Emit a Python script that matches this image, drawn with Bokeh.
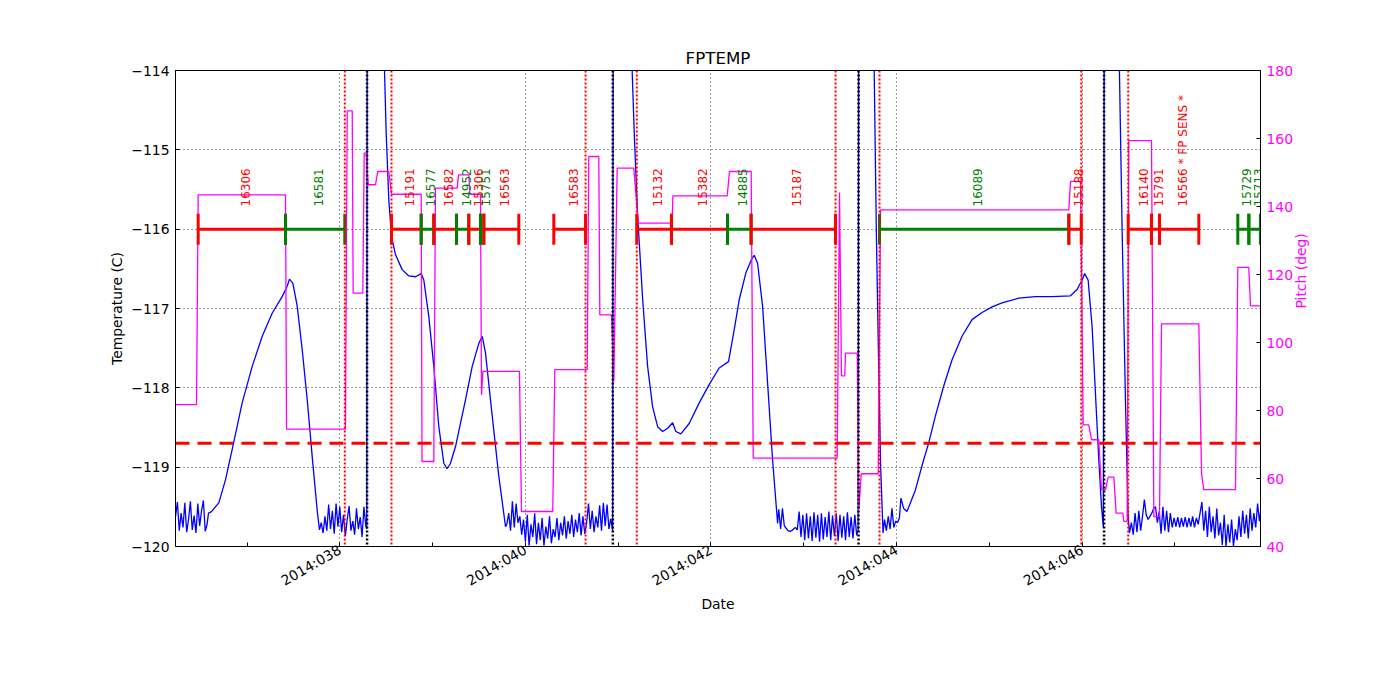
import math
from bokeh.plotting import figure
from bokeh.models import Range1d, LinearAxis, FixedTicker, Span, LabelSet, ColumnDataSource
from bokeh.embed import file_html
from bokeh.resources import INLINE
from bokeh.core.properties import value

FONT = "DejaVu Sans"
RED = "#FF0000"
GREEN = "#008000"
BLUE = "#0000FF"
MAGENTA = "#FF00FF"

# ---------------- axes ----------------
x_start_day = 36.2295
x_end_day = 47.9215
x_major_days = [38, 40, 42, 44, 46]
x_tick_labels = ["2014:038", "2014:040", "2014:042", "2014:044", "2014:046"]
x_minor_days = [37, 39, 41, 43, 45, 47]
temp_ticks = [-120, -119, -118, -117, -116, -115, -114]
temp_tick_labels = ["\u2212120", "\u2212119", "\u2212118", "\u2212117", "\u2212116", "\u2212115", "\u2212114"]
pitch_ticks = [40, 60, 80, 100, 120, 140, 160, 180]

# ---------------- limits / events ----------------
temp_limit = -118.7
red_event_days = [38.054, 38.557, 40.648, 41.200, 43.342, 43.816, 45.990, 46.496]
black_event_days = [38.294, 40.942, 43.590, 46.236]

# ---------------- FPTEMP (deg C) ----------------
n1_day = [36.23, 36.25, 36.27, 36.29, 36.31, 36.33, 36.35, 36.37, 36.39, 36.41,
          36.43, 36.45, 36.47, 36.49, 36.51, 36.53, 36.55, 36.57]
n1_c = [-119.62, -119.44, -119.80, -119.58, -119.76, -119.45, -119.82, -119.66, -119.43, -119.79,
        -119.61, -119.83, -119.46, -119.74, -119.55, -119.42, -119.81, -119.72]

h1_day = [36.585, 36.617, 36.696, 36.768, 36.840, 36.948, 37.056, 37.164, 37.271, 37.379,
          37.433, 37.458, 37.494, 37.541, 37.595, 37.649, 37.703, 37.756, 37.781]
h1_c = [-119.58, -119.56, -119.45, -119.16, -118.78, -118.19, -117.73, -117.35, -117.06, -116.85,
        -116.72, -116.63, -116.68, -116.97, -117.52, -118.15, -118.87, -119.54, -119.79]

n2_day = [37.80, 37.82, 37.84, 37.86, 37.88, 37.90, 37.92, 37.94, 37.96, 37.98,
          38.00, 38.02, 38.04, 38.06, 38.08, 38.10, 38.12, 38.14, 38.16, 38.18,
          38.20, 38.22, 38.24, 38.26, 38.28, 38.290, 38.296, 38.470]
n2_c = [-119.70, -119.83, -119.62, -119.80, -119.47, -119.78, -119.55, -119.84, -119.46, -119.75,
        -119.50, -119.82, -119.60, -119.87, -119.66, -119.49, -119.80, -119.68, -119.85, -119.52,
        -119.78, -119.63, -119.88, -119.50, -119.74, -119.78, -113.0, -113.5]

h2_day = [38.500, 38.528, 38.557, 38.600, 38.672, 38.743, 38.816, 38.877, 38.905, 38.959,
          39.013, 39.067, 39.121, 39.155, 39.190, 39.247, 39.355, 39.427, 39.498, 39.535,
          39.570, 39.643, 39.714, 39.786]
h2_c = [-114.79, -115.63, -116.09, -116.32, -116.51, -116.59, -116.60, -116.56, -116.64, -117.10,
        -117.73, -118.49, -118.95, -119.02, -118.96, -118.74, -118.15, -117.73, -117.44, -117.35,
        -117.56, -118.36, -119.12, -119.75]

n3_day = [39.80, 39.82, 39.84, 39.86, 39.88, 39.90, 39.92, 39.94, 39.96, 39.98,
          40.00, 40.02, 40.04, 40.06, 40.08, 40.10, 40.12, 40.14, 40.16, 40.18,
          40.20, 40.22, 40.24, 40.26, 40.28, 40.30, 40.32, 40.34, 40.36, 40.38,
          40.40, 40.42, 40.44, 40.46, 40.48, 40.50, 40.52, 40.54, 40.56, 40.58,
          40.60, 40.62, 40.64, 40.66, 40.68, 40.70, 40.72, 40.74, 40.76, 40.78,
          40.80, 40.82, 40.84, 40.86, 40.88, 40.90, 40.92, 40.940, 40.946, 41.136]
n3_c = [-119.72, -119.58, -119.80, -119.43, -119.76, -119.46, -119.70, -119.62, -119.85, -119.66,
        -119.94, -119.60, -119.99, -119.72, -119.88, -119.58, -119.97, -119.70, -119.92, -119.64,
        -119.99, -119.75, -119.90, -119.62, -119.96, -119.78, -119.88, -119.64, -119.92, -119.70,
        -119.86, -119.62, -119.90, -119.68, -119.84, -119.60, -119.88, -119.66, -119.82, -119.58,
        -119.86, -119.62, -119.84, -119.70, -119.46, -119.78, -119.55, -119.82, -119.62, -119.76,
        -119.48, -119.80, -119.45, -119.74, -119.47, -119.78, -119.65, -119.80, -113.0, -113.5]

h3_day = [41.173, 41.210, 41.264, 41.317, 41.371, 41.425, 41.479, 41.533, 41.587, 41.621,
          41.675, 41.765, 41.873, 41.980, 42.088, 42.189, 42.250, 42.304, 42.376, 42.441,
          42.466, 42.502, 42.556, 42.610, 42.664, 42.718]
h3_c = [-114.79, -115.84, -116.89, -117.73, -118.24, -118.49, -118.55, -118.51, -118.44, -118.55,
        -118.58, -118.45, -118.19, -117.96, -117.75, -117.67, -117.27, -116.89, -116.55, -116.37,
        -116.33, -116.43, -116.97, -117.94, -118.91, -119.71]

n4_day = [42.73, 42.75, 42.77, 42.79, 42.81, 42.83, 42.85, 42.87, 42.89, 42.91,
          42.93, 42.95, 42.97, 42.99, 43.01, 43.03, 43.05, 43.07, 43.09, 43.11,
          43.13, 43.15, 43.17, 43.19, 43.21, 43.23, 43.25, 43.27, 43.29, 43.31,
          43.33, 43.35, 43.37, 43.39, 43.41, 43.43, 43.45, 43.47, 43.49, 43.51,
          43.53, 43.55, 43.57, 43.585, 43.592, 43.753]
n4_c = [-119.53, -119.78, -119.52, -119.74, -119.77, -119.80, -119.81, -119.80, -119.78, -119.76,
        -119.79, -119.56, -119.88, -119.60, -119.92, -119.58, -119.90, -119.62, -119.93, -119.57,
        -119.89, -119.60, -119.94, -119.58, -119.91, -119.63, -119.88, -119.56, -119.92, -119.61,
        -119.87, -119.58, -119.93, -119.60, -119.89, -119.62, -119.92, -119.57, -119.88, -119.63,
        -119.90, -119.60, -119.86, -119.80, -113.0, -113.5]

d4_day = [43.782, 43.807, 43.828, 43.854]
d4_c = [-116.05, -117.73, -118.99, -119.83]

n5_day = [43.87, 43.89, 43.91, 43.93, 43.95, 43.97, 43.99, 44.01, 44.03]
n5_c = [-119.66, -119.80, -119.62, -119.78, -119.52, -119.76, -119.68, -119.70, -119.64]

h4_day = [44.047, 44.076, 44.112, 44.202, 44.291, 44.345, 44.417, 44.507, 44.597, 44.705,
          44.813, 44.921, 45.029, 45.137, 45.316, 45.496, 45.676, 45.873, 45.945, 45.999,
          46.027, 46.064, 46.107, 46.143, 46.179, 46.208, 46.228, 46.238, 46.394]
h4_c = [-119.39, -119.52, -119.56, -119.29, -118.91, -118.70, -118.36, -117.98, -117.65, -117.35,
        -117.14, -117.05, -116.98, -116.93, -116.87, -116.85, -116.85, -116.84, -116.76, -116.64,
        -116.56, -116.64, -117.23, -118.07, -118.91, -119.50, -119.76, -113.0, -113.5]

d5_day = [46.431, 46.466, 46.495, 46.509]
d5_c = [-116.05, -118.15, -119.62, -119.83]

n6_day = [46.53, 46.55, 46.57, 46.59, 46.61, 46.63, 46.65, 46.67, 46.69, 46.71,
          46.73, 46.75, 46.77, 46.79, 46.81, 46.83, 46.85, 46.87, 46.89, 46.91,
          46.93, 46.95, 46.97, 46.99, 47.01, 47.03, 47.05, 47.07, 47.09, 47.11,
          47.13, 47.15, 47.17, 47.19, 47.21, 47.23, 47.25, 47.27, 47.29, 47.31,
          47.33, 47.35, 47.37, 47.39, 47.41, 47.43, 47.45, 47.47, 47.49, 47.51,
          47.53, 47.55, 47.57, 47.59, 47.61, 47.63, 47.65, 47.67, 47.69, 47.71,
          47.73, 47.75, 47.77, 47.79, 47.81, 47.83, 47.85, 47.87, 47.89, 47.91,
          47.93]
n6_c = [-119.70, -119.85, -119.58, -119.82, -119.55, -119.80, -119.62, -119.41, -119.60, -119.66,
        -119.62, -119.58, -119.52, -119.50, -119.70, -119.56, -119.84, -119.50, -119.80, -119.55,
        -119.82, -119.58, -119.76, -119.64, -119.75, -119.63, -119.76, -119.64, -119.75, -119.63,
        -119.76, -119.64, -119.75, -119.62, -119.76, -119.64, -119.72, -119.58, -119.44, -119.80,
        -119.55, -119.88, -119.50, -119.82, -119.62, -119.90, -119.52, -119.86, -119.70, -119.98,
        -119.60, -120.00, -119.72, -119.95, -119.66, -120.00, -119.78, -119.92, -119.62, -119.88,
        -119.55, -119.84, -119.60, -119.90, -119.52, -119.80, -119.58, -119.76, -119.46, -119.68,
        -119.50]

temp_day = (n1_day + h1_day + n2_day + h2_day + n3_day + h3_day + n4_day + d4_day
            + n5_day + h4_day + d5_day + n6_day)
temp_c = (n1_c + h1_c + n2_c + h2_c + n3_c + h3_c + n4_c + d4_c
          + n5_c + h4_c + d5_c + n6_c)

# ---------------- Pitch (deg) ----------------
pitch_day = [36.230, 36.456, 36.474, 37.415, 37.426, 38.061, 38.080, 38.134, 38.144, 38.248,
             38.263, 38.284, 38.306, 38.385, 38.409, 38.528, 38.557, 38.877, 38.886, 39.013,
             39.031, 39.265, 39.279, 39.390, 39.403, 39.516, 39.527, 39.543, 39.936, 39.958,
             40.295, 40.317, 40.666, 40.683, 40.791, 40.802, 40.928, 40.953, 40.989, 41.168,
             41.216, 41.582, 41.589, 42.175, 42.199, 42.433, 42.455, 43.360, 43.385, 43.406,
             43.442, 43.449, 43.576, 43.593, 43.619, 43.802, 43.827, 45.856, 45.874, 45.982,
             46.011, 46.071, 46.100, 46.179, 46.208, 46.251, 46.280, 46.341, 46.366, 46.438,
             46.448, 46.485, 46.502, 46.747, 46.772, 46.833, 46.855, 47.257, 47.286, 47.310,
             47.652, 47.677, 47.795, 47.814, 47.922]
pitch_deg = [81.7, 81.7, 143.4, 143.4, 74.5, 74.5, 168.1, 168.1, 114.5, 114.5,
             155.7, 155.7, 146.4, 146.4, 150.3, 150.3, 143.6, 143.6, 65.0, 65.0,
             145.4, 145.4, 149.3, 149.3, 143.6, 143.6, 84.6, 91.5, 91.5, 50.3,
             50.3, 92.0, 92.0, 154.7, 154.7, 108.1, 108.1, 88.5, 151.3, 151.3,
             135.1, 135.1, 143.1, 143.1, 150.3, 150.3, 66.0, 66.0, 144.1, 90.2,
             90.2, 96.9, 96.9, 50.8, 61.4, 61.4, 139.0, 139.0, 147.4, 147.4,
             75.8, 75.8, 71.4, 71.4, 56.7, 56.7, 60.4, 60.4, 49.8, 49.8,
             47.4, 47.4, 159.4, 159.4, 48.8, 48.8, 105.5, 105.5, 61.6, 56.7,
             56.7, 122.1, 122.1, 110.8, 110.8]

# ---------------- observation bars ----------------
bar_level = -116.0
bar_label_level = -115.714
bar_start = [36.474, 37.415, 38.557, 38.877, 39.013, 39.258, 39.390, 39.516, 39.552, 40.306,
             41.200, 41.574, 42.178, 42.432, 43.816, 45.856, 46.496, 46.747, 46.833, 47.677,
             47.796]
bar_end = [37.415, 38.054, 38.877, 39.013, 39.258, 39.390, 39.516, 39.552, 39.929, 40.648,
           41.574, 42.178, 42.432, 43.342, 45.856, 45.990, 46.747, 46.833, 47.257, 47.796,
           47.921]
bar_color = [RED, GREEN, RED, GREEN, RED, GREEN, RED, GREEN, RED, RED,
             RED, RED, GREEN, RED, GREEN, RED, RED, RED, RED, GREEN,
             GREEN]
bar_text = ["16306", "16581", "15191", "16577", "16582", "14952", "15306", "15751", "16563", "16583",
            "15132", "15382", "14885", "15187", "16089", "15188", "16140", "15791", "16566 * FP SENS *", "15729",
            "15713"]

# ---------------- figure ----------------
p = figure(frame_width=1085, frame_height=476,
           min_border_left=175, min_border_right=124, min_border_top=70, min_border_bottom=138,
           x_range=Range1d(x_start_day, x_end_day), y_range=Range1d(-120, -114),
           output_backend="svg", toolbar_location=None, title="FPTEMP")
p.extra_y_ranges = {"pitch": Range1d(40, 180)}
p.background_fill_color = "white"
p.border_fill_color = "white"
p.outline_line_color = "black"
p.outline_line_width = 1
p.outline_line_alpha = 1

p.title.text_font = FONT
p.title.text_font_size = "16.7px"
p.title.text_font_style = "normal"
p.title.text_color = "black"
p.title.align = "center"
p.title.standoff = 6

xa = p.xaxis[0]
xa.ticker = FixedTicker(ticks=x_major_days, minor_ticks=x_minor_days)
xa.major_label_overrides = {d: t for d, t in zip(x_major_days, x_tick_labels)}
xa.major_label_orientation = math.pi / 6
xa.axis_label = "Date"

ya = p.yaxis[0]
ya.ticker = FixedTicker(ticks=temp_ticks)
ya.major_label_overrides = {v: t for v, t in zip(temp_ticks, temp_tick_labels)}
ya.axis_label = "Temperature (C)"

ra = LinearAxis(y_range_name="pitch", ticker=FixedTicker(ticks=pitch_ticks))
ra.axis_label = "Pitch (deg)"
if "axis_label_orientation" in ra.properties():
    ra.axis_label_orientation = math.pi / 2
p.add_layout(ra, "right")

for ax in (xa, ya, ra):
    ax.major_tick_in = 4
    ax.major_tick_out = 0
    ax.minor_tick_in = 4
    ax.minor_tick_out = 0
    ax.major_label_standoff = 6
    ax.major_label_text_font = FONT
    ax.major_label_text_font_size = "13.9px"
    ax.major_label_text_color = "black"
    ax.axis_label_text_font = FONT
    ax.axis_label_text_font_size = "13.9px"
    ax.axis_label_text_font_style = "normal"
    ax.axis_label_text_color = "black"
    ax.axis_line_color = "black"
    ax.major_tick_line_color = "black"
    ax.minor_tick_line_color = "black" if ax is xa else None

xa.major_label_standoff = 2
xa.axis_label_standoff = -3
ya.axis_label_standoff = 3
ra.axis_label_standoff = 5
ra.major_label_text_color = MAGENTA
ra.axis_label_text_color = MAGENTA

for g in (p.xgrid[0], p.ygrid[0]):
    g.grid_line_color = "black"
    g.grid_line_dash = "1 3"
    g.grid_line_width = 1
    g.grid_line_alpha = 0.8

# temperature
p.line(temp_day, temp_c, line_color=BLUE, line_width=1.3)

# pitch
p.line(pitch_day, pitch_deg, line_color=MAGENTA, line_width=1.3, y_range_name="pitch")

# event lines
for d in red_event_days:
    p.add_layout(Span(location=d, dimension="height", line_color=RED, line_dash="2 2", line_width=2))
for d in black_event_days:
    p.add_layout(Span(location=d, dimension="height", line_color="black", line_dash="2 2", line_width=2.5))
p.add_layout(Span(location=temp_limit, dimension="width", line_color=RED, line_dash="14 8", line_width=3))

# bars
p.segment(x0=bar_start, y0=[bar_level] * len(bar_start), x1=bar_end, y1=[bar_level] * len(bar_end),
          line_color=bar_color, line_width=3)
cap_x, cap_c = [], []
for s, e, c in zip(bar_start, bar_end, bar_color):
    cap_x += [s, e]
    cap_c += [c, c]
p.scatter(x=cap_x, y=[bar_level] * len(cap_x), marker="dash", angle=math.pi / 2, size=31,
          line_color=cap_c, line_width=3, fill_color=None)

lab_src = ColumnDataSource(dict(
    x=[(s + e) / 2 for s, e in zip(bar_start, bar_end)],
    y=[bar_label_level] * len(bar_start),
    text=bar_text, color=bar_color))
p.add_layout(LabelSet(x="x", y="y", text="text", source=lab_src, angle=math.pi / 2,
                      x_offset=3.5, text_align="left", text_baseline="middle",
                      text_color="color", text_font=value(FONT), text_font_size=value("12px")))

open("out.html", "w").write(file_html(p, INLINE, title="FPTEMP"))
